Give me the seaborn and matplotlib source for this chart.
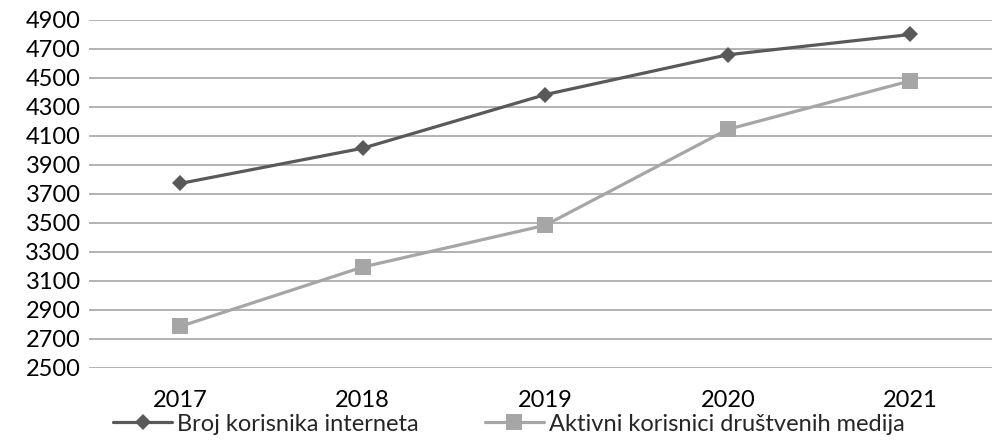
import pandas as pd
import seaborn as sns
from matplotlib import pyplot as plt

# Data
years = ['2017', '2018', '2019', '2020', '2021']
internet_users = [3772, 4015, 4385, 4660, 4800]
social_media_users = [2785, 3195, 3483, 4145, 4480]
series_names = ['Broj korisnika interneta', 'Aktivni korisnici društvenih medija']

df = pd.DataFrame({
    'Godina': years * 2,
    'Vrijednost': internet_users + social_media_users,
    'Serija': [series_names[0]] * len(years) + [series_names[1]] * len(years),
})

sns.set_theme(style='white')
plt.rcParams['font.family'] = ['Lato', 'DejaVu Sans']

fig = plt.figure(figsize=(9.92, 4.4), dpi=100)
ax = fig.add_axes([89 / 992, 1 - 367.7 / 440, 1 - 89 / 992, (367.7 - 20) / 440])

dark, light = '#595959', '#A6A6A6'
sns.lineplot(data=df[df['Serija'] == series_names[0]], x='Godina', y='Vrijednost',
             color=dark, marker='D', linewidth=2.3, markersize=8.5,
             markeredgewidth=0, ax=ax)
sns.lineplot(data=df[df['Serija'] == series_names[1]], x='Godina', y='Vrijednost',
             color=light, marker='s', linewidth=2.3, markersize=12,
             markeredgewidth=0, ax=ax)

ax.set_ylim(2500, 4900)
ax.set_yticks(range(2500, 5000, 200))
ax.set_xlim(-0.5, -0.5 + (992 - 89) / 182.5)
ax.grid(axis='y', color='#A6A6A6', linewidth=1.2)
ax.grid(axis='x', visible=False)
ax.set_axisbelow(True)
for s in ax.spines.values():
    s.set_visible(False)
ax.set_xlabel('')
ax.set_ylabel('')
ax.tick_params(axis='y', labelsize=17, pad=6, length=0, colors='black')
ax.tick_params(axis='x', labelsize=17, pad=16, length=0, colors='black')

handles = [plt.Line2D([], [], color=dark, lw=2.3, marker='D', ms=8.5, mew=0),
           plt.Line2D([], [], color=light, lw=2.3, marker='s', ms=12, mew=0)]
fig.legend(handles, series_names, loc='center', bbox_to_anchor=(0.513, 0.036),
           ncol=2, frameon=False, fontsize=17, handlelength=2.5, handletextpad=0.2,
           columnspacing=2.8, borderaxespad=0, borderpad=0)

fig.savefig('out.png', dpi=100)
